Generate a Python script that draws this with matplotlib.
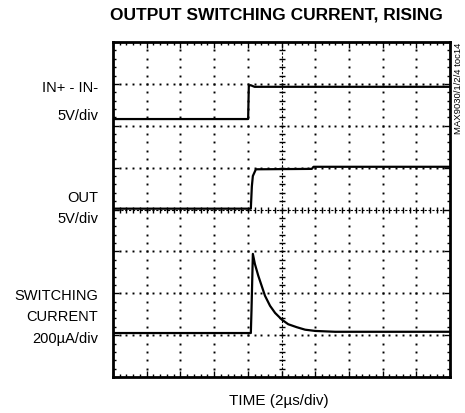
import numpy as np
import matplotlib
matplotlib.use("Agg")
import matplotlib.pyplot as plt

plt.rcParams['font.family'] = ['Liberation Sans', 'DejaVu Sans']

# traces, in screen divisions (x: 0..10, y: 0..8 from bottom)
in_t = [0, 4.01, 4.03, 4.08, 4.2, 10]
in_v = [6.16, 6.16, 6.95, 6.97, 6.93, 6.93]

out_t = [0, 4.09, 4.12, 4.15, 4.24, 5.9, 5.95, 10]
out_v = [4.02, 4.02, 4.55, 4.8, 4.96, 4.97, 5.02, 5.02]

cur_t = [0, 4.09, 4.11, 4.15, 4.21, 4.31, 4.41, 4.51, 4.66, 4.81, 5.01, 5.20, 5.45,
         5.70, 6.0, 6.29, 6.59, 10]
cur_v = [1.05, 1.05, 1.6, 2.94, 2.70, 2.42, 2.18, 1.94, 1.70, 1.53, 1.37, 1.26, 1.19,
         1.13, 1.10, 1.09, 1.08, 1.08]

title = "OUTPUT SWITCHING CURRENT, RISING"
xlabel = "TIME (2\u00b5s/div)"
ch_labels = [("IN+ - IN-", 87.5), ("5V/div", 116),
             ("OUT", 198.5), ("5V/div", 219),
             ("SWITCHING", 296), ("CURRENT", 317.5), ("200\u00b5A/div", 339)]
tag = "MAX9030/1/2/4 toc14"

W, H = 465, 414
fig = plt.figure(figsize=(W / 100, H / 100), dpi=100)
ax = fig.add_axes([113 / W, 1 - 378 / H, 337 / W, 335 / H])
ax.set_xlim(0, 10)
ax.set_ylim(0, 8)

# dotted graticule
for gx in range(1, 10):
    if gx == 5:
        continue
    yy = np.arange(0, 8.01, 0.2)
    ax.plot([gx] * len(yy), yy, ls='none', marker='s', ms=1.4, color='black', mew=0)
for gy in range(1, 8):
    if gy == 4:
        continue
    xx = np.arange(0, 10.01, 0.2)
    ax.plot(xx, [gy] * len(xx), ls='none', marker='s', ms=1.4, color='black', mew=0)

# centre axes with tick crosses
ax.axvline(5, color='black', lw=0.8, ls=(0, (2, 1.5)))
ax.axhline(4, color='black', lw=0.8, ls=(0, (2, 1.5)))
yy = np.arange(0.2, 8, 0.2)
ax.plot([5] * len(yy), yy, ls='none', marker='_', ms=5, mew=1, color='black')
xx = np.arange(0.2, 10, 0.2)
ax.plot(xx, [4] * len(xx), ls='none', marker='|', ms=5, mew=1, color='black')

# traces
for t, v in [(in_t, in_v), (out_t, out_v), (cur_t, cur_v)]:
    ax.plot(t, v, color='black', lw=1.6, solid_joinstyle='round')

ax.set_xticks(range(0, 11))
ax.set_yticks(range(0, 9))
ax.set_xticks(np.arange(0, 10.01, 0.2), minor=True)
ax.set_yticks(np.arange(0, 8.01, 0.2), minor=True)
ax.tick_params(which='both', direction='in', top=True, right=True,
               labelbottom=False, labelleft=False, color='black')
ax.tick_params(which='major', length=4, width=1)
ax.tick_params(which='minor', length=2.5, width=1)
for s in ax.spines.values():
    s.set_linewidth(2)

fig.text(276.5 / W, 1 - 15 / H, title, ha='center', va='center',
         fontsize=12.5, fontweight='bold')
fig.text(279 / W, 1 - 401.5 / H, xlabel, ha='center', va='center', fontsize=11)
for txt, y in ch_labels:
    fig.text(98 / W, 1 - y / H, txt, ha='right', va='center', fontsize=10.5)
fig.text(458 / W, 1 - 43 / H, tag, ha='center', va='top', rotation=90, fontsize=6.8)

fig.savefig("out.png", dpi=100)
